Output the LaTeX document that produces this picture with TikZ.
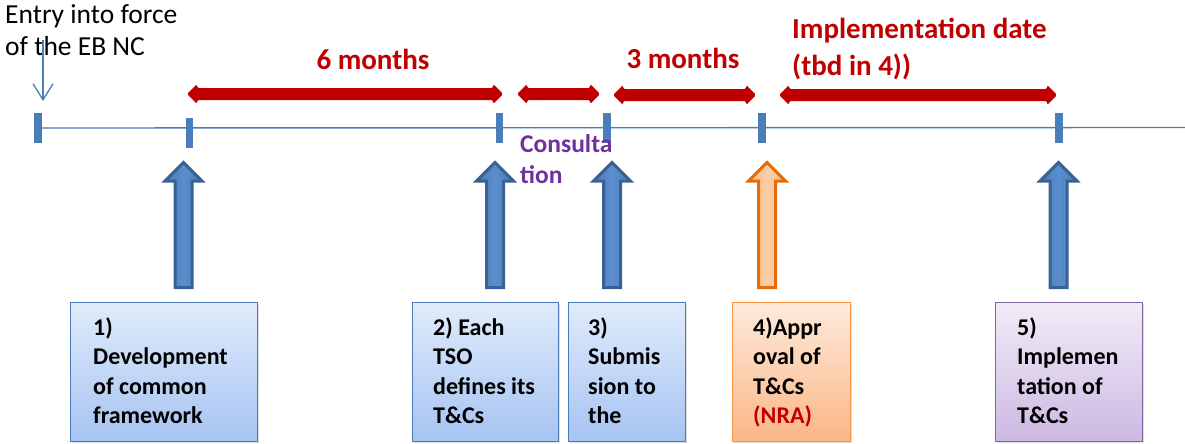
\documentclass[tikz,border=0pt]{standalone}
\usepackage{fontspec}
\setmainfont{Carlito}
\usetikzlibrary{arrows.meta,shadows}

\definecolor{lineblue}{HTML}{4A7EBB}
\definecolor{darkred}{HTML}{C00000}
\definecolor{consult}{HTML}{7030A0}
\definecolor{arrowblue}{HTML}{4A7BB7}
\definecolor{arrowlight}{HTML}{5A8ECD}
\definecolor{arrowedge}{HTML}{3A6194}
\definecolor{arroworange}{HTML}{F9B985}
\definecolor{orangelight}{HTML}{FCCFA8}
\definecolor{orangeedge}{HTML}{E46C0A}
\definecolor{boxblueT}{HTML}{E0EBFB}
\definecolor{boxblueB}{HTML}{A6C3F2}
\definecolor{boxorangeT}{HTML}{FEEADB}
\definecolor{boxorangeB}{HTML}{FBB686}
\definecolor{boxorangeE}{HTML}{F79646}
\definecolor{boxpurpleT}{HTML}{F1ECF7}
\definecolor{boxpurpleB}{HTML}{CCB9E3}
\definecolor{boxpurpleE}{HTML}{8064A2}

% stacked lines whose baseline is the first line
\newcommand\stacklines[1]{\begin{tabular}[t]{@{}l@{}}#1\end{tabular}}

% red double-headed span arrow: left x, right x, centre y
\newcommand\spanarrow[3]{%
  \fill[spanfill] (#1,#3) -- (#1+10,#3-10) -- (#1+10,#3-6) -- (#2-10,#3-6)
    -- (#2-10,#3-10) -- (#2,#3) -- (#2-10,#3+10) -- (#2-10,#3+6)
    -- (#1+10,#3+6) -- (#1+10,#3+10) -- cycle;}

% upward block arrow centred on x, with a given style
\newcommand\blockup[2]{%
  \draw[#2] (#1-8.5,287.5) -- (#1-8.5,181) -- (#1-18.5,181) -- (#1,162.5)
    -- (#1+18.5,181) -- (#1+8.5,181) -- (#1+8.5,287.5) -- cycle;}

\tikzset{
  timeline/.style={draw=lineblue, line width=1.4pt},
  tickmark/.style={fill=lineblue, draw=none, minimum width=7.5pt,
    minimum height=30pt, inner sep=0pt},
  spanfill/.style={fill=darkred, rounded corners=1.5pt},
  bluearrow/.style={left color=arrowblue, right color=arrowblue,
    middle color=arrowlight, draw=arrowedge, line width=3pt},
  orangearrow/.style={left color=arroworange, right color=arroworange,
    middle color=orangelight, draw=orangeedge, line width=3pt},
  stagebox/.style={anchor=north west, inner sep=0pt, line width=1.3pt,
    drop shadow={shadow xshift=1.5pt, shadow yshift=-1.5pt, opacity=0.25}},
  bluebox/.style={stagebox, draw=arrowblue, top color=boxblueT, bottom color=boxblueB},
  orangebox/.style={stagebox, draw=boxorangeE, top color=boxorangeT, bottom color=boxorangeB},
  purplebox/.style={stagebox, draw=boxpurpleE, top color=boxpurpleT, bottom color=boxpurpleB},
  boxtext/.style={anchor=base west, inner sep=0pt,
    font={\fontsize{24}{29.5}\selectfont\bfseries}},
  spanlabel/.style={inner sep=0pt, text=darkred,
    font={\fontsize{29}{37}\selectfont\bfseries}},
  plainlabel/.style={anchor=base west, inner sep=0pt,
    font={\fontsize{27.5}{32}\selectfont}},
}

\begin{document}
\begin{tikzpicture}[x=1pt, y=-1pt]
\useasboundingbox (0,0) rectangle (1185,444);

% title at the start of the timeline
\node[plainlabel] (entry) at (5,24) {\stacklines{Entry into force\\of the EB NC}};
\coordinate (entrytop) at (43,40);
\coordinate (entrytip) at (43,101);
\draw[draw=lineblue, line width=1.3pt,
  -{Straight Barb[length=16pt, width=20pt, line width=1.3pt]}] (entrytop) -- (entrytip);

% timeline with its milestone ticks
\node[tickmark] (t0) at (38,128) {};
\node[tickmark] (t1) at (189.5,133) {};
\node[tickmark] (t2) at (499.5,128) {};
\node[tickmark] (t3) at (607,128) {};
\node[tickmark] (t4) at (762,128) {};
\node[tickmark] (t5) at (1059,128) {};
\coordinate (lineend) at (1185,127.5);
\draw[timeline] (t0.center) -- (lineend);

% durations
\spanarrow{187}{503}{94}
\spanarrow{517}{600}{94}
\spanarrow{613}{756}{95}
\spanarrow{779}{1057}{95}

\node[spanlabel, anchor=base] (six) at (373,70) {6 months};
\node[spanlabel, anchor=base] (three) at (683,68) {3 months};
\node[spanlabel, anchor=base west] (impl) at (792,38)
  {\stacklines{Implementation date\\(tbd in 4))}};

\node[anchor=base west, inner sep=0pt, text=consult,
  font={\fontsize{25.5}{31}\selectfont\bfseries}] (cons) at (520,152)
  {\stacklines{Consulta\\tion}};

% block arrows pointing at the milestones
\blockup{183.5}{bluearrow}
\blockup{495}{bluearrow}
\blockup{612}{bluearrow}
\blockup{767}{orangearrow}
\blockup{1058.5}{bluearrow}

% stage boxes
\node[bluebox, minimum width=187pt, minimum height=139pt] (b1) at (70,302) {};
\node[bluebox, minimum width=146pt, minimum height=139pt] (b2) at (412,302) {};
\node[bluebox, minimum width=117pt, minimum height=139pt] (b3) at (568,302) {};
\node[orangebox, minimum width=118pt, minimum height=139pt] (b4) at (732,302) {};
\node[purplebox, minimum width=147pt, minimum height=139pt] (b5) at (995,302) {};

\node[boxtext] (l1) at (93,335) {\stacklines{1)\\Development\\of common\\framework}};
\node[boxtext] (l2) at (433,335) {\stacklines{2) Each\\TSO\\defines its\\T\&Cs}};
\node[boxtext] (l3) at (588,335) {\stacklines{3)\\Submis\\sion to\\the}};
\node[boxtext] (l4) at (753,335) {\stacklines{4)Appr\\oval of\\T\&Cs\\\textcolor{darkred}{(NRA)}}};
\node[boxtext] (l5) at (1017,335) {\stacklines{5)\\Implemen\\tation of\\T\&Cs}};
\end{tikzpicture}
\end{document}
